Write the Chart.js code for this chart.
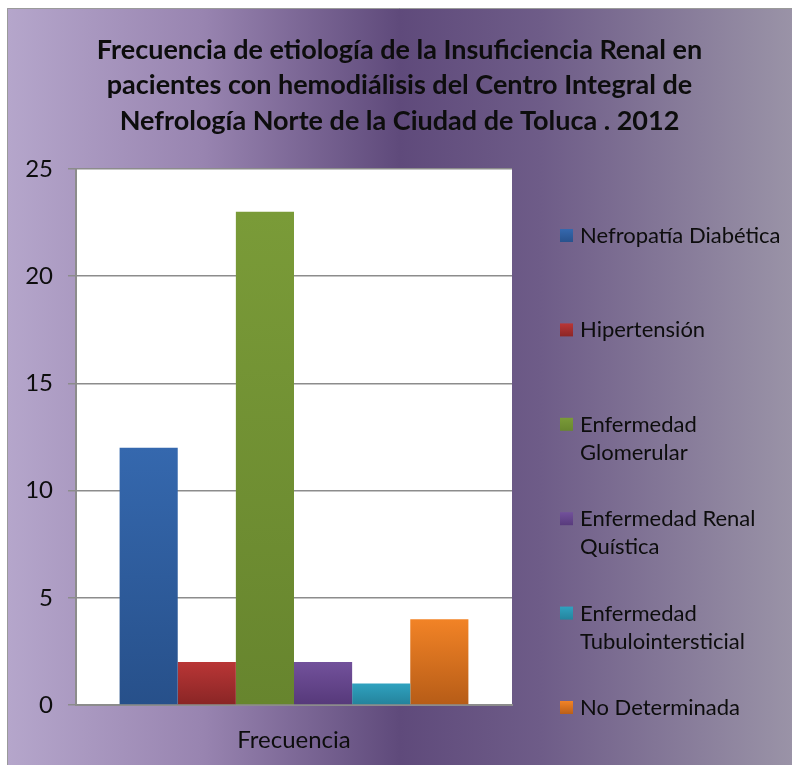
<!DOCTYPE html>
<html>
<head>
<meta charset="utf-8">
<script src="https://cdn.jsdelivr.net/npm/chart.js@4.4.0/dist/chart.umd.min.js"></script>
<style>
  body { margin: 0; background: #fff; overflow: hidden; }
  canvas { display: block; }
</style>
</head>
<body>
<canvas id="myChart" width="792" height="765"></canvas>
<script>
// data
const categories = ["Frecuencia"];
const causes = ["Nefropatía Diabética", "Hipertensión", "Enfermedad Glomerular", "Enfermedad Renal Quística", "Enfermedad Tubulointersticial", "No Determinada"];
const legendLines = [["Nefropatía Diabética"], ["Hipertensión"], ["Enfermedad", "Glomerular"], ["Enfermedad Renal", "Quística"], ["Enfermedad", "Tubulointersticial"], ["No Determinada"]];
const counts = [12, 2, 23, 2, 1, 4];
const yTicks = [0, 5, 10, 15, 20, 25];

// top / bottom colour of each bar
const topColors = ["#3568ae", "#b93636", "#7a9b38", "#72519b", "#2fa2bf", "#f28326"];
const bottomColors = ["#27508a", "#892525", "#67852e", "#56397a", "#24829b", "#b65c17"];

const FONT = "Lato, 'Open Sans', sans-serif";

function barGradient(i) {
  return (context) => {
    const chart = context.chart;
    const area = chart.chartArea;
    if (!area) return topColors[i];
    const y = chart.scales.y;
    const g = chart.ctx.createLinearGradient(0, y.getPixelForValue(counts[i]), 0, area.bottom);
    g.addColorStop(0, topColors[i]);
    g.addColorStop(1, bottomColors[i]);
    return g;
  };
}

// purple background + white plot area
const background = {
  id: "background",
  beforeDraw(chart) {
    const ctx = chart.ctx;
    const w = chart.width, h = chart.height;
    let g = ctx.createLinearGradient(7, 0, w, 0);
    g.addColorStop(0, "#b5a6cb");
    g.addColorStop(0.25, "#9884b0");
    g.addColorStop(0.5, "#5f4a7b");
    g.addColorStop(0.68, "#6e5c88");
    g.addColorStop(1, "#9a93a7");
    ctx.save();
    ctx.fillStyle = g;
    ctx.fillRect(7, 8, w - 7, h - 8);
    ctx.strokeStyle = "#9a9a9a";
    ctx.lineWidth = 1;
    ctx.beginPath();
    ctx.moveTo(7.5, h);
    ctx.lineTo(7.5, 8.5);
    ctx.lineTo(w, 8.5);
    ctx.stroke();
    const a = chart.chartArea;
    ctx.fillStyle = "#ffffff";
    ctx.fillRect(a.left, a.top, a.right - a.left, a.bottom - a.top);
    ctx.restore();
  }
};

// legend on the right as its own layout box, lines wrapped like the original
const sideLegend = {
  id: "sideLegend",
  beforeInit(chart) {
    const box = {
      position: "right",
      weight: 0,
      fullSize: false,
      options: {},
      width: 280,
      height: 0,
      isHorizontal() { return false; },
      update(maxWidth, maxHeight) { this.width = 280; this.height = maxHeight; },
      draw() {
        const ctx = chart.ctx;
        const x = this.left + 48;
        let y = 236;
        ctx.save();
        ctx.font = "22px " + FONT;
        ctx.textBaseline = "middle";
        chart.data.datasets.forEach((ds, i) => {
          const g = ctx.createLinearGradient(0, y - 7, 0, y + 7);
          g.addColorStop(0, topColors[i]);
          g.addColorStop(1, bottomColors[i]);
          ctx.fillStyle = g;
          ctx.fillRect(x, y - 7, 13, 13);
          ctx.fillStyle = "#0d0d0d";
          legendLines[i].forEach((line, j) => {
            ctx.fillText(line, x + 20, y + j * 28);
          });
          y += 94.4;
        });
        ctx.restore();
      }
    };
    Chart.layouts.addBox(chart, box);
  }
};

const ctx = document.getElementById("myChart").getContext("2d");

const myChart = new Chart(ctx, {
  type: "bar",
  data: {
    labels: categories,
    datasets: causes.map((name, i) => ({
      label: name,
      data: [counts[i]],
      backgroundColor: barGradient(i),
      borderWidth: 0
    }))
  },
  options: {
    responsive: false,
    animation: false,
    categoryPercentage: 0.8,
    barPercentage: 1,
    layout: { padding: { left: 7, top: 8, right: 0, bottom: 0 } },
    plugins: {
      legend: { display: false },
      tooltip: { enabled: false },
      title: {
        display: true,
        text: ["Frecuencia de etiología de la Insuficiencia Renal en", "pacientes con hemodiálisis del Centro Integral de", "Nefrología Norte de la Ciudad de Toluca . 2012"],
        color: "#0d0d0d",
        font: { family: FONT, size: 27, weight: "bold", lineHeight: 1.32 },
        padding: { top: 24, bottom: 30 }
      }
    },
    scales: {
      x: {
        afterFit(scale) { scale.height = 60; },
        grid: { display: false, drawTicks: false },
        border: { display: true, color: "#8c8c8c", width: 2 },
        ticks: { color: "#0d0d0d", font: { family: FONT, size: 24 }, padding: 21 }
      },
      y: {
        min: 0,
        max: 25,
        afterFit(scale) { scale.width = 69; },
        afterBuildTicks(scale) { scale.ticks = yTicks.map(v => ({ value: v })); },
        grid: { color: "#8c8c8c", lineWidth: 1.5, tickLength: 8 },
        border: { display: true, color: "#8c8c8c", width: 2 },
        ticks: { color: "#0d0d0d", font: { family: FONT, size: 24 }, padding: 15 }
      }
    }
  },
  plugins: [background, sideLegend]
});
</script>
</body>
</html>
